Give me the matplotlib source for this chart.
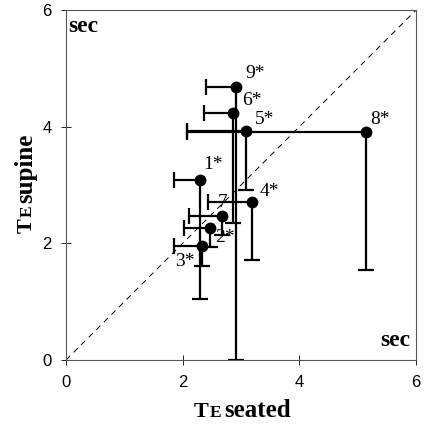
import matplotlib
matplotlib.use("Agg")
import matplotlib.pyplot as plt
import numpy as np

# subjects, seated (x) vs supine (y) time constants, with one-sided errors
labels = ["1*", "2*", "3*", "4*", "5*", "6*", "7", "8*", "9*"]
seated = [2.30, 2.47, 2.33, 3.18, 3.09, 2.87, 2.67, 5.15, 2.92]
supine = [3.09, 2.26, 1.96, 2.70, 3.93, 4.24, 2.46, 3.90, 4.68]
seated_low = [1.85, 2.03, 1.85, 2.44, 2.07, 2.36, 2.11, 2.07, 2.40]
supine_low = [1.04, 1.94, 1.61, 1.72, 2.92, 2.35, 2.15, 1.54, 0.0]
# label offsets in points
label_dx = [2, 3.5, -19, 6, 6, 6, -3, 3, 6.5]
label_dy = [11, -6.5, -11.5, 8, 8, 9, 10, 9, 10]

serif = "Liberation Serif"
sans = "Liberation Sans"

fig = plt.figure(figsize=(4.24, 4.26), dpi=100)
ax = fig.add_axes([0.1557, 0.155, 0.8255, 0.8215])

ax.plot([0, 6], [0, 6], color="black", lw=0.7, dashes=(6, 5))

x = np.array(seated)
y = np.array(supine)
ax.hlines(y, seated_low, x, color="black", lw=1.6)
ax.vlines(x, supine_low, y, color="black", lw=1.6)
ax.plot(seated_low, y, ls="none", marker="|", ms=11, mew=1.6, color="black")
ax.plot(x, supine_low, ls="none", marker="_", ms=11, mew=1.6, color="black")
ax.plot(x, y, ls="none", marker="o", ms=8.5, mew=0, color="black")

for lab, xi, yi, dx, dy in zip(labels, x, y, label_dx, label_dy):
    ax.annotate(lab, (xi, yi), xytext=(dx, dy), textcoords="offset points",
                fontsize=14, family=serif, ha="left", va="center")

ax.text(0.04, 5.9, "sec", fontsize=17, fontweight="bold", family=serif,
        ha="left", va="top")
ax.text(5.9, 0.15, "sec", fontsize=17, fontweight="bold", family=serif,
        ha="right", va="bottom")

ax.set_xlim(0, 6)
ax.set_ylim(0, 6)
ax.set_xticks([0, 2, 4, 6])
ax.set_yticks([0, 2, 4, 6])
ax.tick_params(direction="inout", length=7, width=0.6, labelsize=12, pad=7)
for t in ax.get_xticklabels() + ax.get_yticklabels():
    t.set_family(sans)
for s in ax.spines.values():
    s.set_color("#555555")
    s.set_linewidth(0.8)

# axis titles: "T" with a small "E", placed in pixels
H = 426
def put(s, xp, yp, size, rot=0):
    fx, fy = xp / 424, (H - yp) / H
    fig.text(fx, fy, s, fontsize=size, fontweight="bold", family=serif,
             rotation=rot, rotation_mode="anchor", ha="left", va="baseline")

put("T", 194, 417, 16)
put("E", 210, 417, 12.5)
put("seated", 224, 417, 18)
put("T", 32, 233, 16, 90)
put("E", 32, 217, 12.5, 90)
put("supine", 32, 203, 18, 90)

fig.savefig("out.png", dpi=100)
